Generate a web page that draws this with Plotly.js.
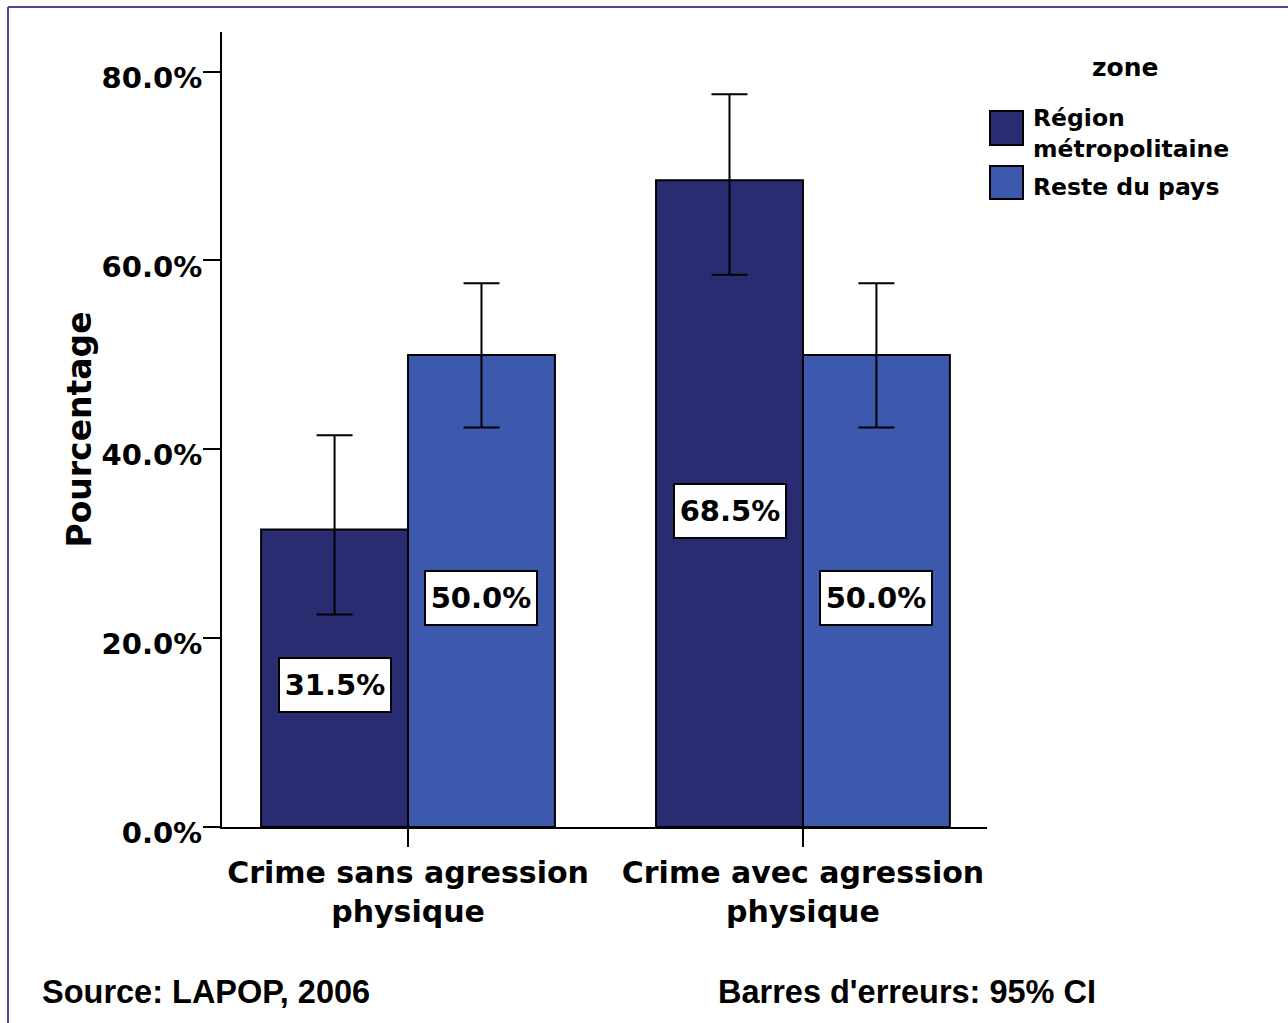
<!DOCTYPE html>
<html>
<head>
<meta charset="utf-8">
<script src="https://cdn.plot.ly/plotly-3.0.1.min.js"></script>
<style>html,body{margin:0;padding:0;background:#fff;}#chart{width:1288px;height:1023px;}</style>
</head>
<body>
<div id="chart"></div>
<script>
// ---- data ----
const categories = ["Crime sans agression<br>physique", "Crime avec agression<br>physique"];
const seriesNames = ["Région métropolitaine", "Reste du pays"];
const metroValues = [31.5, 68.5];
const resteValues = [50.0, 50.0];
const metroCIUpper = [41.5, 77.6];
const metroCILower = [22.5, 58.5];
const resteCIUpper = [57.6, 57.6];
const resteCILower = [42.3, 42.3];
const yTickVals = [0, 20, 40, 60, 80];
const yTickText = ["0.0%", "20.0%", "40.0%", "60.0%", "80.0%"];
const legendTitle = "zone";
const sourceText = "Source: LAPOP, 2006";
const errorText = "Barres d'erreurs: 95% CI";
const yTitle = "Pourcentage";

// ---- styles ----
const W = 1288, H = 1023;
const M = {l: 222, r: 301, t: 32, b: 196};
const PW = W - M.l - M.r, PH = H - M.t - M.b;
const px = x => (x - M.l) / PW;      // pixel -> paper x
const py = y => (H - M.b - y) / PH;  // pixel -> paper y
const colors = ["#2a2c72", "#3d59ad"];
const xRange = [-0.471, 1.466];
const bargap = 0.256;
const barW = (1 - bargap) / 2;

function errTrace(name, vals, up, lo, color) {
  return {
    type: "bar", name: name, x: categories, y: vals,
    marker: {color: color, line: {color: "#000", width: 2}},
    error_y: {type: "data", symmetric: false,
      array: up.map((u, i) => u - vals[i]),
      arrayminus: lo.map((l, i) => vals[i] - l),
      color: "#000", thickness: 2, width: 18},
    hoverinfo: "none"
  };
}

const traces = [
  errTrace(seriesNames[0], metroValues, metroCIUpper, metroCILower, colors[0]),
  errTrace(seriesNames[1], resteValues, resteCIUpper, resteCILower, colors[1])
];

const tickFont = {family: "DejaVu Sans", size: 29, color: "#000", weight: 700};
const annotations = [];
[metroValues, resteValues].forEach((vals, s) => {
  vals.forEach((v, i) => {
    annotations.push({
      xref: "x", yref: "y", x: i + (s === 0 ? -barW / 2 : barW / 2), y: v / 2,
      yshift: -7, text: v.toFixed(1) + "%", showarrow: false,
      font: tickFont, bgcolor: "#fff", bordercolor: "#000", borderwidth: 2,
      borderpad: 5, width: 100, height: 42
    });
  });
});
// legend (custom, large swatches)
const legFont = {family: "DejaVu Sans", size: 23.5, color: "#000", weight: 700};
annotations.push({xref: "paper", yref: "paper", x: px(1125), y: py(67), text: legendTitle,
  showarrow: false, font: {family: "DejaVu Sans", size: 25, color: "#000", weight: 700}, xanchor: "center", yanchor: "middle"});
annotations.push({xref: "paper", yref: "paper", x: px(1031), y: py(134), text: "Région<br>métropolitaine",
  showarrow: false, font: legFont, xanchor: "left", yanchor: "middle", align: "left"});
annotations.push({xref: "paper", yref: "paper", x: px(1031), y: py(187), text: "Reste du pays",
  showarrow: false, font: legFont, xanchor: "left", yanchor: "middle", align: "left"});
// footer
const footFont = {family: "Liberation Sans", size: 32.5, color: "#000", weight: 700};
annotations.push({xref: "paper", yref: "paper", x: px(40), y: py(992), text: sourceText,
  showarrow: false, font: footFont, xanchor: "left", yanchor: "middle"});
annotations.push({xref: "paper", yref: "paper", x: px(716), y: py(992), text: errorText,
  showarrow: false, font: footFont, xanchor: "left", yanchor: "middle"});

const shapes = [
  {type: "rect", xref: "paper", yref: "paper", x0: px(990), x1: px(1023), y0: py(111), y1: py(145),
    fillcolor: colors[0], line: {color: "#000", width: 2}},
  {type: "rect", xref: "paper", yref: "paper", x0: px(990), x1: px(1023), y0: py(166), y1: py(199),
    fillcolor: colors[1], line: {color: "#000", width: 2}},
  // outer frame (top and left edges)
  {type: "line", xref: "paper", yref: "paper", x0: px(8), x1: px(1290), y0: py(7), y1: py(7),
    line: {color: "#4b4a8c", width: 2}},
  {type: "line", xref: "paper", yref: "paper", x0: px(8), x1: px(8), y0: py(7), y1: py(1030),
    line: {color: "#4b4a8c", width: 2}}
];

const layout = {
  width: W, height: H,
  margin: M,
  paper_bgcolor: "#fff", plot_bgcolor: "#fff",
  barmode: "group", bargap: bargap, bargroupgap: 0,
  showlegend: false,
  xaxis: {type: "category", range: xRange, showline: true, linecolor: "#000", linewidth: 2,
    ticks: "outside", ticklen: 18, tickwidth: 2, tickcolor: "#000", showgrid: false, zeroline: false,
    tickfont: {family: "DejaVu Sans", size: 30, color: "#000", weight: 700}, fixedrange: true},
  yaxis: {range: [0, 84.2], tickvals: yTickVals, ticktext: yTickText,
    showline: true, linecolor: "#000", linewidth: 2, ticks: "outside", ticklen: 17, tickwidth: 2,
    tickcolor: "#000", showgrid: false, zeroline: false, tickfont: tickFont,
    ticklabelstandoff: -5, ticklabelshift: 6,
    title: {text: yTitle, font: {family: "DejaVu Sans", size: 33, color: "#000", weight: 700}, standoff: 0},
    fixedrange: true},
  annotations: annotations,
  shapes: shapes
};

Plotly.newPlot("chart", traces, layout, {displayModeBar: false, staticPlot: true});
</script>
</body>
</html>
